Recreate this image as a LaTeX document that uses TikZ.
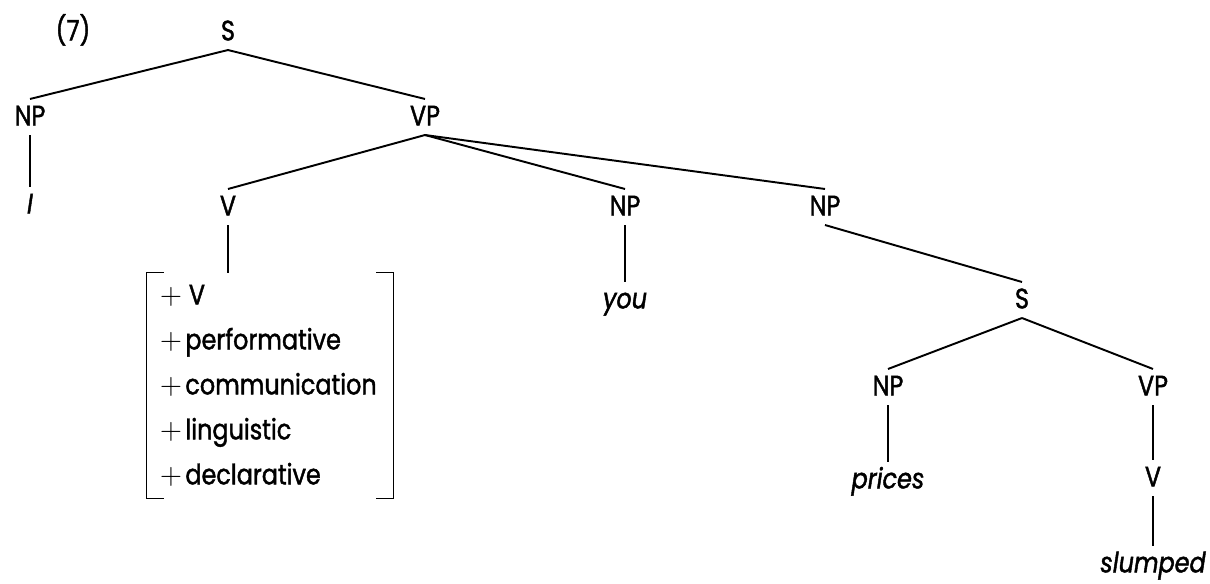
\documentclass[tikz,border=0pt]{standalone}
\usepackage{fontspec}
\setmainfont{Poppins}[FakeStretch=0.85, FakeBold=1.5]
\usepackage{tikz}
\usetikzlibrary{positioning}

\newcommand{\treefont}{\fontsize{16}{25.6}\selectfont}
\newcommand{\plus}{{\fontsize{18}{18}\selectfont$+$}\kern2pt}

\tikzset{
	cat/.style={text height=11.5pt, text depth=2pt, inner sep=3.3pt},
	leaf/.style={cat, font=\treefont\itshape},
	branch/.style={line width=1.1pt},
	stem/.style={line width=0.8pt}
}

\begin{document}
\begin{tikzpicture}[on grid, font=\treefont]
	\useasboundingbox (0,0) rectangle (24.2,-11.66);
	\node[cat] at (4.56,-0.64) (s) {S};
	\node[cat, left=3.1cm of s] (num) {(7)};
	\node[cat, below left=1.7cm and 3.96cm of s] (np1) {NP};
	\node[cat, below right=1.7cm and 3.94cm of s] (vp1) {VP};
	\node[leaf, below=1.76cm of np1] (i) {I};
	\node[cat, below left=1.8cm and 3.94cm of vp1] (v1) {V};
	\node[cat, below right=1.8cm and 4cm of vp1] (np2) {NP};
	\node[cat, below right=1.8cm and 8cm of vp1] (np3) {NP};
	\node[leaf, below=1.86cm of np2] (you) {you};
	\node[below right=3.57cm and 0.84cm of v1, text width=4.4cm, inner xsep=0.26cm, inner ysep=0pt, minimum height=4.5cm, align=left] (feat) {\plus\kern2pt V\\\plus performative\\\plus communication\\\plus linguistic\\\plus declarative};
	\node[cat, below right=1.86cm and 3.94cm of np3] (s2) {S};
	\node[cat, below left=1.74cm and 2.68cm of s2] (np4) {NP};
	\node[cat, below right=1.74cm and 2.62cm of s2] (vp2) {VP};
	\node[leaf, below=1.86cm of np4] (prices) {prices};
	\node[cat, below=1.82cm of vp2] (v2) {V};
	\node[leaf, below=1.72cm of v2] (slumped) {slumped};
	
	\path[branch] (s.south) edge (np1.north);
	\path[branch] (s.south) edge (vp1.north);
	\path[branch] (vp1.south) edge (v1.north);
	\path[branch] (vp1.south) edge (np2.north);
	\path[branch] (vp1.south) edge (np3.north);
	\path[branch] (np3.south) edge (s2.north);
	\path[branch] (s2.south) edge (np4.north);
	\path[branch] (s2.south) edge (vp2.north);
	
	\path[stem] (np1.south) edge (i.north);
	\path[stem] (np2.south) edge (you.north);
	\path[stem] (v1.south) edge (v1.south |- feat.north);
	\path[stem] (np4.south) edge (prices.north);
	\path[stem] (vp2.south) edge (v2.north);
	\path[stem] (v2.south) edge (slumped.north);
	
	% brackets round the features
	\draw[stem] ([xshift=0.34cm]feat.north west) -- (feat.north west) -- (feat.south west) -- ([xshift=0.34cm]feat.south west);
	\draw[stem] ([xshift=-0.34cm]feat.north east) -- (feat.north east) -- (feat.south east) -- ([xshift=-0.34cm]feat.south east);
\end{tikzpicture}
\end{document}
